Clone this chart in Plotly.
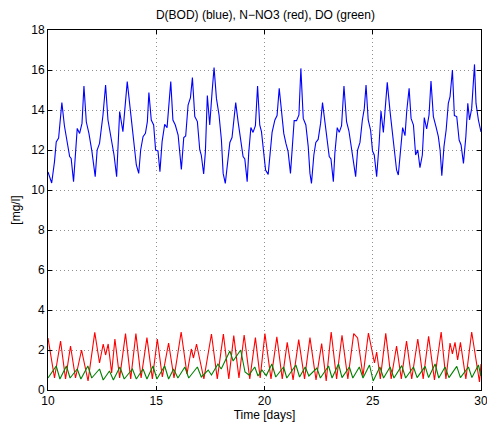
import plotly.graph_objects as go

# ---- data: D(BOD) (blue) ----
bod_t = [10.00, 10.17, 10.30, 10.38, 10.49, 10.64, 10.76, 10.89, 11.00, 11.07, 11.18, 11.35, 11.46, 11.57,
         11.66, 11.77, 11.89, 12.03, 12.18, 12.27, 12.38, 12.54, 12.66, 12.77, 12.92, 13.05, 13.17,
         13.31, 13.46, 13.66, 13.82, 13.96, 14.08, 14.19, 14.28, 14.39, 14.50, 14.59, 14.66, 14.77,
         14.88, 14.97, 15.08, 15.17, 15.27, 15.39, 15.50, 15.67, 15.77, 15.88, 16.01, 16.16, 16.27,
         16.36, 16.47, 16.58, 16.67, 16.78, 16.90, 17.01, 17.08, 17.19, 17.27, 17.36, 17.47, 17.58,
         17.67, 17.78, 17.90, 18.01, 18.09, 18.19, 18.32, 18.40, 18.50, 18.60, 18.67, 18.78, 18.89,
         19.01, 19.09, 19.20, 19.27, 19.37, 19.47, 19.58, 19.68, 19.78, 19.86, 19.97, 20.05, 20.17,
         20.25, 20.35, 20.48, 20.58, 20.68, 20.79, 20.89, 20.99, 21.09, 21.20, 21.28, 21.37, 21.48,
         21.59, 21.68, 21.79, 21.91, 22.02, 22.10, 22.17, 22.28, 22.37, 22.48, 22.59, 22.68, 22.79,
         22.90, 22.99, 23.07, 23.18, 23.25, 23.36, 23.45, 23.56, 23.67, 23.79, 23.90, 24.02, 24.10,
         24.21, 24.30, 24.41, 24.52, 24.61, 24.69, 24.79, 24.90, 24.99, 25.07, 25.18, 25.29, 25.38,
         25.49, 25.57, 25.67, 25.80, 25.90, 26.03, 26.10, 26.18, 26.29, 26.38, 26.49, 26.57, 26.68,
         26.77, 26.88, 26.98, 27.08, 27.18, 27.29, 27.38, 27.49, 27.60, 27.69, 27.80, 27.92, 28.03,
         28.11, 28.19, 28.29, 28.39, 28.49, 28.57, 28.68, 28.77, 28.88, 28.99, 29.08, 29.19, 29.30,
         29.39, 29.47, 29.57, 29.70, 29.77, 29.88, 30.00]
bod_v = [10.90, 10.35, 11.42, 12.40, 12.60, 14.37, 13.20, 12.25, 11.67, 11.58, 10.42, 13.08, 12.83, 13.33,
         15.20, 13.40, 12.83, 11.92, 10.67, 12.00, 12.33, 13.75, 15.25, 13.50, 12.58, 11.75, 10.67,
         13.92, 12.92, 15.42, 13.83, 12.42, 11.25, 10.83, 12.00, 12.67, 12.83, 13.42, 14.87, 13.50,
         13.25, 12.00, 11.95, 10.92, 12.42, 13.28, 13.12, 15.42, 13.50, 13.25, 12.75, 11.03, 12.62,
         12.70, 14.25, 14.62, 15.62, 13.67, 13.42, 12.00, 11.75, 10.80, 11.92, 14.72, 13.25, 14.92,
         16.12, 14.58, 13.75, 12.50, 10.83, 10.33, 11.75, 12.38, 12.62, 13.50, 14.37, 13.42, 12.50,
         11.67, 11.55, 10.42, 11.83, 13.12, 12.88, 13.22, 15.20, 13.25, 12.92, 11.92, 11.00, 10.78,
         11.67, 12.88, 13.50, 13.72, 15.08, 13.83, 12.83, 12.33, 11.92, 10.83, 12.08, 13.47, 13.47,
         13.75, 16.08, 13.58, 13.25, 12.17, 10.83, 10.33, 11.75, 12.38, 12.53, 13.33, 14.37, 13.42,
         12.50, 11.67, 11.55, 10.42, 11.83, 13.12, 12.88, 13.22, 15.20, 13.42, 12.95, 12.00, 11.42,
         10.67, 12.00, 12.38, 13.50, 14.08, 15.25, 13.50, 13.00, 11.95, 11.75, 10.67, 12.25, 13.95,
         12.88, 13.95, 15.38, 13.92, 12.88, 11.75, 11.00, 10.75, 12.17, 13.12, 12.72, 13.95, 15.08,
         13.58, 13.25, 11.75, 12.00, 11.12, 11.75, 13.62, 13.05, 13.75, 15.45, 13.67, 13.17, 12.67,
         12.00, 10.72, 12.17, 13.00, 14.33, 14.67, 16.00, 13.72, 13.67, 12.50, 12.25, 11.33, 12.67,
         14.33, 13.50, 14.08, 16.28, 14.33, 13.50, 12.90]

# ---- data: N-NO3 (red) ----
no3_t = [10.00, 10.30, 10.58, 10.81, 11.04, 11.27, 11.55, 11.85, 12.16, 12.38, 12.55, 12.66, 12.78, 12.94,
         13.09, 13.31, 13.58, 13.82, 14.06, 14.30, 14.57, 14.82, 15.05, 15.28, 15.57, 15.82, 16.15,
         16.42, 16.62, 16.72, 16.86, 17.20, 17.55, 17.82, 18.10, 18.35, 18.58, 18.82, 19.06, 19.32,
         19.58, 19.80, 20.02, 20.30, 20.57, 20.82, 21.05, 21.32, 21.58, 21.85, 22.10, 22.38, 22.64,
         22.85, 23.08, 23.33, 23.58, 23.85, 24.12, 24.30, 24.55, 24.80, 25.08, 25.18, 25.35, 25.60,
         25.85, 26.10, 26.32, 26.56, 26.80, 27.08, 27.33, 27.58, 27.85, 28.16, 28.38, 28.57, 28.68,
         28.80, 28.92, 29.05, 29.30, 29.57, 29.93, 30.00]
no3_v = [2.60, 0.60, 2.45, 0.55, 2.20, 0.60, 2.00, 0.45, 2.88, 1.35, 2.30, 1.75, 2.30, 0.85,
         2.55, 0.60, 2.82, 0.55, 2.82, 0.60, 2.62, 0.55, 2.55, 0.65, 2.35, 0.60, 2.90,
         0.80, 2.05, 1.60, 2.30, 0.55, 2.80, 0.55, 2.80, 0.55, 2.72, 0.60, 2.75, 0.55,
         2.62, 0.60, 2.82, 0.55, 2.66, 0.55, 2.38, 0.50, 2.52, 0.55, 2.62, 0.50, 2.32,
         0.45, 2.90, 0.55, 2.74, 0.55, 2.82, 2.60, 0.70, 2.85, 1.35, 1.90, 0.55, 2.83,
         0.55, 2.20, 0.55, 2.45, 0.55, 2.55, 0.55, 2.68, 0.50, 2.90, 0.55, 2.35, 1.80,
         2.38, 1.50, 2.38, 0.55, 2.90, 0.40, 1.30]

# ---- data: DO (green) ----
do_t = [10.00, 10.38, 10.55, 10.85, 11.02, 11.35, 11.52, 11.84, 12.02, 12.38, 12.55, 12.84, 13.02, 13.32,
        13.52, 13.90, 14.08, 14.39, 14.57, 14.85, 15.03, 15.39, 15.57, 15.80, 16.00, 16.32, 16.50,
        16.90, 17.08, 17.40, 17.55, 17.85, 18.00, 18.40, 18.55, 18.90, 19.10, 19.28, 19.55, 19.70,
        19.88, 20.08, 20.34, 20.52, 20.88, 21.03, 21.45, 21.62, 21.88, 22.05, 22.42, 22.58, 22.96,
        23.12, 23.42, 23.58, 23.92, 24.08, 24.38, 24.55, 24.85, 25.02, 25.33, 25.50, 25.80, 25.98,
        26.34, 26.52, 26.88, 27.05, 27.42, 27.58, 27.88, 28.05, 28.34, 28.52, 28.88, 29.05, 29.42,
        29.58, 29.88, 30.00]
do_v = [0.60, 1.20, 0.55, 1.20, 0.60, 1.05, 0.55, 1.20, 0.60, 1.05, 0.50, 0.95, 0.50, 1.15,
        0.55, 1.05, 0.55, 1.05, 0.55, 1.20, 0.55, 1.20, 0.55, 1.05, 0.60, 1.15, 0.60,
        1.15, 0.65, 1.00, 0.75, 1.30, 1.05, 1.95, 1.45, 2.00, 0.90, 0.75, 1.15, 0.70,
        1.00, 0.72, 1.30, 0.65, 1.15, 0.60, 1.25, 0.65, 1.15, 0.70, 1.10, 0.60, 1.20,
        0.60, 1.30, 0.62, 1.15, 0.60, 1.15, 0.60, 1.25, 0.45, 1.15, 0.60, 1.15, 0.60,
        1.22, 0.60, 1.15, 0.62, 1.18, 0.62, 1.30, 0.60, 1.15, 0.62, 1.18, 0.62, 1.15,
        0.62, 1.25, 0.70]

x_ticks = [10, 15, 20, 25, 30]
y_ticks = [0, 2, 4, 6, 8, 10, 12, 14, 16, 18]

title_text = "D(BOD) (blue), N\u2212NO3 (red), DO (green)"
x_label = "Time [days]"
y_label = "[mg/l]"

fig = go.Figure()
fig.add_trace(go.Scatter(x=bod_t, y=bod_v, mode="lines", line=dict(color="#0000ff", width=1.1), showlegend=False))
fig.add_trace(go.Scatter(x=no3_t, y=no3_v, mode="lines", line=dict(color="#ff0000", width=1.1), showlegend=False))
fig.add_trace(go.Scatter(x=do_t, y=do_v, mode="lines", line=dict(color="#008000", width=1.1), showlegend=False))

font_fam = "Liberation Sans, Arial, Helvetica, sans-serif"
axis_common = dict(
    showline=True, linecolor="black", linewidth=1, mirror="ticks",
    ticks="inside", ticklen=4, tickcolor="black", tickwidth=1,
    showgrid=True, gridcolor="#909090", griddash="1px,3px", gridwidth=1,
    zeroline=False, automargin=False, ticklabeloverflow="allow",
    tickfont=dict(family=font_fam, size=12, color="black"),
)

fig.update_layout(
    width=487, height=428,
    margin=dict(l=48, r=6, t=30, b=38, autoexpand=False),
    paper_bgcolor="white", plot_bgcolor="white",
    title=dict(text=title_text, x=0.545, xanchor="center", y=0.965, yanchor="middle",
               font=dict(family=font_fam, size=12, color="black")),
    xaxis=dict(range=[10, 30], tickvals=x_ticks, ticktext=[str(v) for v in x_ticks],
               title=dict(text=x_label, font=dict(family=font_fam, size=12, color="black"), standoff=2),
               **axis_common),
    yaxis=dict(range=[0, 18], tickvals=y_ticks, ticktext=[str(v) for v in y_ticks],
               title=dict(text=y_label, font=dict(family=font_fam, size=12, color="black"), standoff=8),
               **axis_common),
)

fig.write_html(
    "out.html",
    config={"displayModeBar": False},
    post_script="document.body.style.margin='0';document.body.style.padding='0';document.documentElement.style.overflow='hidden';",
)
